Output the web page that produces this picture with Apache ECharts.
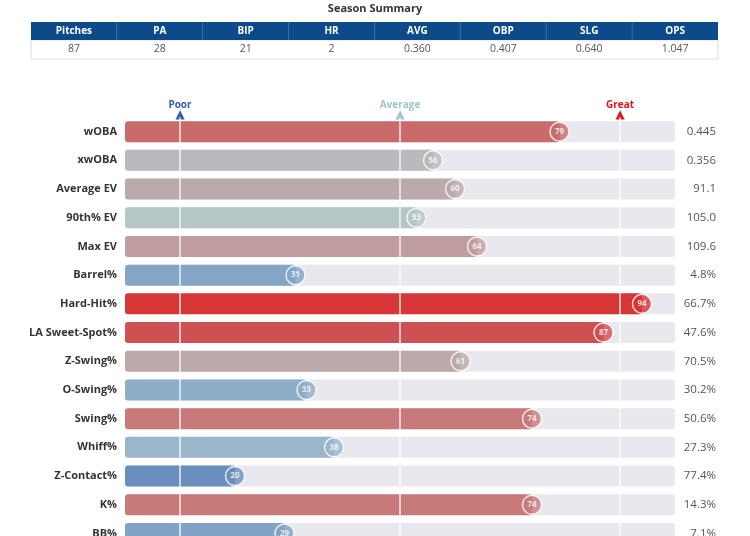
<!DOCTYPE html>
<html>
<head>
<meta charset="UTF-8">
<title>Percentile Rankings</title>
<script src="https://cdn.jsdelivr.net/npm/echarts@6/dist/echarts.min.js"></script>
<style>
    html, body { margin: 0; padding: 0; background: #fff; height: 536px; overflow: hidden; }
    #wrap { width: 750px; height: 536px; overflow: hidden; }
    #chart1 { width: 750px; height: 560px; }
</style>
</head>
<body>
<div id="wrap"><div id="chart1"></div></div>
<script type="text/javascript">
// 数据
var summaryHeaders = ['Pitches', 'PA', 'BIP', 'HR', 'AVG', 'OBP', 'SLG', 'OPS'];
var summaryValues = ['87', '28', '21', '2', '0.360', '0.407', '0.640', '1.047'];

var categories = ['wOBA', 'xwOBA', 'Average EV', '90th% EV', 'Max EV', 'Barrel%', 'Hard-Hit%',
    'LA Sweet-Spot%', 'Z-Swing%', 'O-Swing%', 'Swing%', 'Whiff%', 'Z-Contact%', 'K%', 'BB%'];
var percentiles = [79, 56, 60, 53, 64, 31, 94, 87, 61, 33, 74, 38, 20, 74, 29];
var statValues = ['0.445', '0.356', '91.1', '105.0', '109.6', '4.8%', '66.7%', '47.6%',
    '70.5%', '30.2%', '50.6%', '27.3%', '77.4%', '14.3%', '7.1%'];

var refTicks = [10, 50, 90];
var refNames = ['Poor', 'Average', 'Great'];

// 颜色
var barColors = ['#c96a6b', '#b9babd', '#bcaaab', '#b6c6c5', '#c09d9f', '#84a5c5', '#d63636',
    '#cd5052', '#bcaaaa', '#8daec9', '#c87a7b', '#99b6ca', '#698fbc', '#c87a7b', '#80a3c5'];
var refColors = ['#2f5fad', '#9fc5c4', '#e0161b'];

var chart1 = echarts.init(document.getElementById('chart1'));
var font = '"Open Sans", "Noto Sans", sans-serif';

// 表格 (Season Summary)
var tableLeft = 31, tableRight = 718, headTop = 22, headH = 18, rowH = 19;
var colW = (tableRight - tableLeft) / summaryHeaders.length;
var graphic = [
    {
        type: 'text', left: 'center', top: 3,
        style: { text: 'Season Summary', fontSize: 11, fontWeight: 'bold', fill: '#333', fontFamily: font }
    },
    {
        type: 'rect', shape: { x: tableLeft, y: headTop + headH, width: tableRight - tableLeft, height: rowH },
        style: { fill: '#fff', stroke: '#dcdcdc', lineWidth: 1 }
    },
    {
        type: 'rect', shape: { x: tableLeft, y: headTop, width: tableRight - tableLeft, height: headH },
        style: { fill: '#0c4a89' }
    }
];
summaryHeaders.forEach(function (h, i) {
    var cx = tableLeft + colW * (i + 0.5);
    if (i > 0) {
        graphic.push({
            type: 'line', shape: { x1: tableLeft + colW * i, y1: headTop, x2: tableLeft + colW * i, y2: headTop + headH },
            style: { stroke: '#3d6fa5', lineWidth: 1 }
        });
    }
    graphic.push({
        type: 'text', x: cx, y: headTop + headH / 2,
        style: { text: h, fontSize: 10, fontWeight: 'bold', fill: '#fff', align: 'center', verticalAlign: 'middle', fontFamily: font }
    });
    graphic.push({
        type: 'text', x: cx, y: headTop + headH + rowH / 2,
        style: { text: summaryValues[i], fontSize: 10.5, fill: '#555', align: 'center', verticalAlign: 'middle', fontFamily: font }
    });
});

var option = {
    backgroundColor: '#fff',
    textStyle: { fontFamily: font },
    graphic: graphic,
    grid: {
        left: 125,
        right: 75,
        top: 117.3,
        height: 430.5
    },
    xAxis: {
        type: 'value',
        position: 'top',
        min: 0,
        max: 100,
        axisLine: { show: false },
        axisTick: { show: false },
        splitLine: { show: false },
        axisLabel: {
            customValues: refTicks,
            margin: -3,
            formatter: function (v) {
                var i = refTicks.indexOf(v);
                var k = ['p', 'a', 'g'][i];
                return '{' + k + '|' + refNames[i] + '}\n{' + k + 't|▲}';
            },
            rich: {
                p: { color: refColors[0], fontSize: 10, fontWeight: 'bold', lineHeight: 9 },
                a: { color: refColors[1], fontSize: 10, fontWeight: 'bold', lineHeight: 9 },
                g: { color: refColors[2], fontSize: 10, fontWeight: 'bold', lineHeight: 9 },
                pt: { color: refColors[0], fontSize: 12, lineHeight: 11, fontFamily: 'DejaVu Sans' },
                at: { color: refColors[1], fontSize: 12, lineHeight: 11, fontFamily: 'DejaVu Sans' },
                gt: { color: refColors[2], fontSize: 12, lineHeight: 11, fontFamily: 'DejaVu Sans' }
            }
        }
    },
    yAxis: [
        {
            type: 'category',
            inverse: true,
            data: categories,
            axisLine: { show: false },
            axisTick: { show: false },
            axisLabel: { color: '#333', fontSize: 11, fontWeight: 'bold', margin: 8 }
        },
        {
            type: 'category',
            inverse: true,
            position: 'right',
            data: statValues,
            axisLine: { show: false },
            axisTick: { show: false },
            axisLabel: { color: '#555', fontSize: 11.5, align: 'right', margin: 41 }
        }
    ],
    series: [
        {
            name: 'percentile',
            type: 'bar',
            barWidth: 21,
            data: percentiles.map(function (v, i) {
                return { value: v, itemStyle: { color: barColors[i] } };
            }),
            itemStyle: { borderRadius: 3 },
            showBackground: true,
            backgroundStyle: { color: '#e8e8ee', borderRadius: 3 },
            markLine: {
                silent: true,
                symbol: 'none',
                label: { show: false },
                lineStyle: { color: 'rgba(255,255,255,0.85)', width: 1.5, type: 'solid' },
                data: refTicks.map(function (t) { return { xAxis: t }; })
            },
            z: 2
        },
        {
            name: 'badge',
            type: 'scatter',
            symbol: 'circle',
            symbolSize: 19,
            data: percentiles.map(function (v, i) {
                return { value: [v, categories[i]], itemStyle: { color: barColors[i] } };
            }),
            itemStyle: { borderColor: '#fff', borderWidth: 1.5 },
            label: {
                show: true,
                position: 'inside',
                color: '#fff',
                fontSize: 8,
                fontWeight: 'bold',
                formatter: function (p) { return p.value[0]; }
            },
            z: 5
        }
    ]
};

chart1.setOption(option);
</script>
</body>
</html>
